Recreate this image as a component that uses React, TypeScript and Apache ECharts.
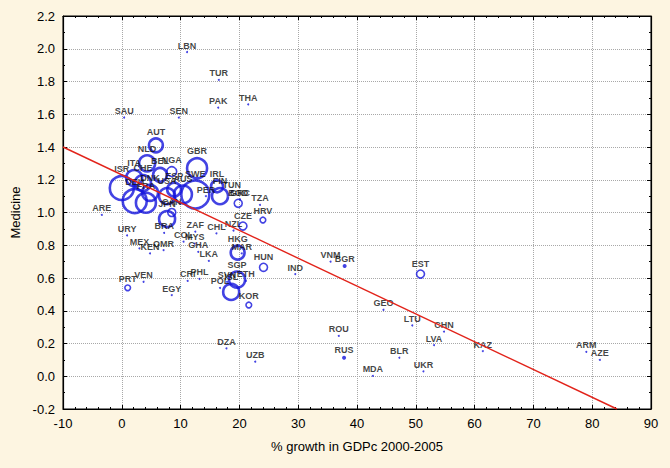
import React, { useEffect, useRef } from "react";
import * as echarts from "echarts";

const codes = [
  "LBN", "TUR", "PAK", "THA", "SAU", "SEN", "AUT", "NLD", "BEL", "NGA", "GBR", "ITA", "CHE", "ISR",
  "DNK", "DEU", "FRA", "USA", "ESP", "AUS", "SWE", "IRL", "FIN", "TUN", "PER", "GRC", "BGD", "TZA",
  "CAN", "JPN", "BRA", "ARE", "URY", "ZAF", "CHL", "NZL", "CZE", "HRV", "MEX", "KEN", "OMR", "COL",
  "MYS", "GHA", "LKA", "HKG", "MAR", "HUN", "SGP", "SVN", "ETH", "POL", "ISL", "IND", "VNM", "BGR",
  "EST", "GEO", "LTU", "CHN", "LVA", "ROU", "RUS", "BLR", "MDA", "UKR", "KAZ", "ARM", "AZE", "DZA",
  "UZB", "PRT", "VEN", "CRI", "PHL", "EGY", "KOR",
];
const growth = [
  11.1, 16.5, 16.4, 21.5, 0.4, 9.7, 5.8, 4.3, 6.5, 8.5, 12.8, 2.1, 3.6, 0.0,
  4.8, 2.2, 4.1, 7.7, 8.9, 10.4, 12.5, 16.2, 16.7, 18.7, 14.3, 20.1, 19.8, 23.5,
  8.5, 7.7, 7.2, -3.4, 0.9, 12.5, 16.1, 19.0, 20.6, 24.0, 3.0, 4.8, 7.1, 10.5,
  12.4, 13.0, 14.8, 19.7, 20.4, 24.1, 19.6, 17.9, 21.1, 16.7, 18.6, 29.5, 35.5, 37.9,
  50.8, 44.5, 49.4, 54.8, 53.1, 36.9, 37.8, 47.2, 42.7, 51.3, 61.4, 79.0, 81.3, 17.8,
  22.7, 1.0, 3.7, 11.2, 13.2, 8.5, 21.6,
];
const medicine = [
  1.98, 1.81, 1.64, 1.66, 1.58, 1.58, 1.41, 1.30, 1.23, 1.25, 1.27, 1.21, 1.18, 1.15,
  1.12, 1.07, 1.06, 1.10, 1.14, 1.11, 1.11, 1.16, 1.10, 1.13, 1.10, 1.08, 1.056, 1.046,
  1.00, 0.96, 0.875, 0.985, 0.86, 0.883, 0.873, 0.89, 0.917, 0.954, 0.781, 0.75, 0.77, 0.822,
  0.81, 0.76, 0.704, 0.755, 0.75, 0.665, 0.59, 0.576, 0.582, 0.539, 0.515, 0.624, 0.70, 0.673,
  0.624, 0.406, 0.31, 0.273, 0.19, 0.246, 0.113, 0.113, 0.002, 0.03, 0.154, 0.149, 0.10, 0.17,
  0.089, 0.54, 0.577, 0.582, 0.594, 0.496, 0.435,
];
// relative publication weight (bubble area)
const weight = [
  0, 0, 0, 0, 0, 0, 12, 16, 12, 6, 25, 16, 16, 36,
  16, 36, 25, 16, 12, 20, 49, 9, 16, 0, 0, 0, 4, 0,
  4, 16, 0, 0, 0, 0, 0, 0, 4, 2, 0, 0, 0, 0,
  0, 0, 0, 12, 0, 4, 16, 0, 0, 0, 16, 0, 0, 1,
  4, 0, 0, 0, 0, 0, 0.5, 0, 0, 0, 0, 0, 0, 0,
  0, 2, 0, 0, 0, 0, 2,
];
const fitX = [-10, 84.2];
const fitY = [1.4, -0.2];

const FONT = "'Liberation Sans Narrow', 'Liberation Sans', Arial, sans-serif";
const BLUE = "#1414dc";

export default function App() {
  const ref = useRef<HTMLDivElement>(null);
  useEffect(() => {
    const chart = echarts.init(ref.current!, null, { renderer: "svg" });
    const data = codes.map((c, i) => {
      const w = weight[i];
      const ring = w >= 1.5;
      return {
        name: c,
        value: [growth[i], medicine[i]],
        symbolSize: ring ? 4 * Math.sqrt(w) : w > 0 ? 4 : 2,
        itemStyle: ring
          ? { color: "rgba(0,0,0,0)", borderColor: BLUE, borderWidth: w >= 9 ? 2.6 : 1.6 }
          : { color: BLUE, borderWidth: 0 },
      };
    });
    const axisCommon = {
      type: "value" as const,
      axisLine: { show: true, onZero: false, lineStyle: { color: "#000", width: 1.2 } },
      axisTick: { show: true, inside: true, length: 4, lineStyle: { color: "#000" } },
    };
    chart.setOption({
      animation: false,
      backgroundColor: "#fdf5e1",
      grid: {
        left: 63, right: 19, top: 16, bottom: 59,
        show: true, backgroundColor: "#ffffff", borderColor: "#000", borderWidth: 1,
      },
      xAxis: [
        {
          ...axisCommon,
          min: -10, max: 90, interval: 10,
          minorTick: { show: true, splitNumber: 5, length: 2, lineStyle: { color: "#000" } },
          axisLabel: { color: "#000", fontSize: 13, fontFamily: FONT, margin: 8 },
          splitLine: { show: true, lineStyle: { color: "#a8a8a8", type: "dotted", width: 1 } },
          name: "% growth in GDPc 2000-2005",
          nameLocation: "middle",
          nameGap: 31,
          nameTextStyle: { color: "#000", fontSize: 13, fontFamily: FONT },
        },
        {
          ...axisCommon,
          position: "top",
          min: -10, max: 90, interval: 10,
          minorTick: { show: true, splitNumber: 5, length: 2, lineStyle: { color: "#000" } },
          axisLabel: { show: false },
          splitLine: { show: false },
        },
      ],
      yAxis: [
        {
          ...axisCommon,
          min: -0.2, max: 2.2, interval: 0.2,
          minorTick: { show: true, splitNumber: 2, length: 2, lineStyle: { color: "#000" } },
          axisLabel: {
            color: "#000", fontSize: 13, fontFamily: FONT, margin: 8,
            formatter: (v: number) => v.toFixed(1),
          },
          splitLine: { show: true, lineStyle: { color: "#a8a8a8", type: "dotted", width: 1 } },
          name: "Medicine",
          nameLocation: "middle",
          nameGap: 32,
          nameTextStyle: { color: "#000", fontSize: 13, fontFamily: FONT },
        },
        {
          ...axisCommon,
          position: "right",
          min: -0.2, max: 2.2, interval: 0.2,
          minorTick: { show: true, splitNumber: 2, length: 2, lineStyle: { color: "#000" } },
          axisLabel: { show: false },
          splitLine: { show: false },
        },
      ],
      series: [
        {
          type: "scatter",
          xAxisIndex: 0,
          yAxisIndex: 0,
          symbol: "circle",
          data,
          label: {
            show: true,
            position: "top",
            distance: 1,
            formatter: "{b}",
            fontSize: 9,
            fontWeight: "bold",
            color: "#111",
            fontFamily: "'Liberation Sans', Arial, sans-serif",
          },
          z: 2,
        },
        {
          type: "line",
          xAxisIndex: 0,
          yAxisIndex: 0,
          data: fitX.map((x, i) => [x, fitY[i]]),
          showSymbol: false,
          symbol: "none",
          silent: true,
          lineStyle: { color: "#e2231a", width: 1.4 },
          z: 3,
        },
      ],
    });
    return () => chart.dispose();
  }, []);
  return <div ref={ref} style={{ position: "fixed", left: 0, top: 0, width: 670, height: 468 }} />;
}
